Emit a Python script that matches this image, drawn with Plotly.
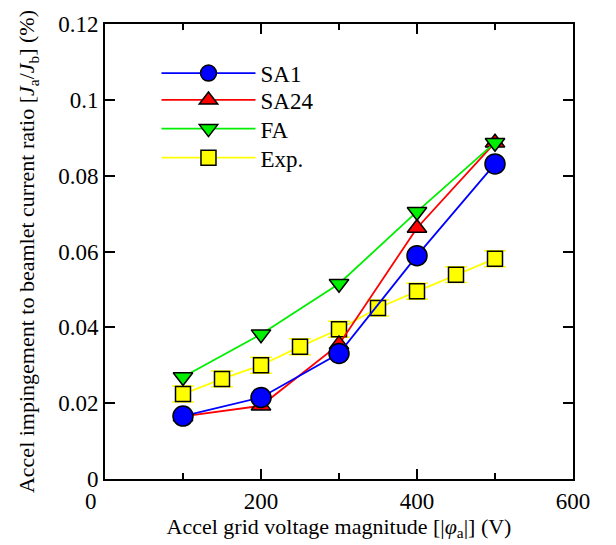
import plotly.graph_objects as go

x_sim = [100, 200, 300, 400, 500]
sa1 = [0.0166, 0.0215, 0.0331, 0.0589, 0.0831]
sa24 = [0.0165, 0.0193, 0.0355, 0.0662, 0.0887]
fa = [0.0269, 0.0382, 0.0515, 0.0705, 0.0887]
x_exp = [100, 150, 200, 250, 300, 350, 400, 450, 500]
exp = [0.0224, 0.0264, 0.0300, 0.0349, 0.0395, 0.0451, 0.0495, 0.0539, 0.0581]
exp_err = [0.0021, 0.0021, 0.0021, 0.0021, 0.0021, 0.0021, 0.0021, 0.0021, 0.0021]

x_ticks = [0, 200, 400, 600]
y_ticks = [0, 0.02, 0.04, 0.06, 0.08, 0.1, 0.12]
y_ticktext = ["0", "0.02", "0.04", "0.06", "0.08", "0.1", "0.12"]

FONT = "Liberation Serif"
mk_line = dict(color="black", width=1.5)

fig = go.Figure()
fig.add_trace(go.Scatter(
    x=x_exp, y=exp, name="Exp.", mode="lines+markers", legend="legend4",
    line=dict(color="#ffff00", width=1.8),
    marker=dict(symbol="square", size=15, color="#ffff00", line=mk_line),
    error_y=dict(type="data", array=exp_err, color="#ffff00", thickness=1.5, width=11),
))
fig.add_trace(go.Scatter(
    x=x_sim, y=sa24, name="SA24", mode="lines+markers", legend="legend2",
    line=dict(color="#ff0000", width=1.8),
    marker=dict(symbol="triangle-up", size=17, color="#ff0000", line=mk_line),
))
fig.add_trace(go.Scatter(
    x=x_sim, y=fa, name="FA", mode="lines+markers", legend="legend3",
    line=dict(color="#00ee00", width=1.8),
    marker=dict(symbol="triangle-down", size=17, color="#00ee00", line=mk_line),
))
fig.add_trace(go.Scatter(
    x=x_sim, y=sa1, name="SA1", mode="lines+markers", legend="legend",
    line=dict(color="#0000ff", width=1.8),
    marker=dict(symbol="circle", size=20, color="#0000ff", line=mk_line),
))

def leg(yc):
    return dict(x=0.11, y=yc, xanchor="left", yanchor="middle",
                bgcolor="rgba(0,0,0,0)", itemwidth=94,
                font=dict(family=FONT, size=23))

fig.update_layout(
    width=616, height=545,
    margin=dict(l=105, r=43, t=16, b=62),
    paper_bgcolor="white", plot_bgcolor="white",
    font=dict(family=FONT, size=22, color="black"),
    showlegend=True,
    legend=leg(0.892), legend2=leg(0.833), legend3=leg(0.770), legend4=leg(0.706),
    annotations=[dict(text="0", x=0, xref="x", y=0, yref="paper",
                      xanchor="center", yanchor="top", xshift=-14, yshift=-8,
                      showarrow=False, font=dict(family=FONT, size=23))],
)
fig.update_xaxes(
    range=[0, 600], tickvals=x_ticks, ticktext=["", "200", "400", "600"],
    ticks="inside", ticklen=10, tickwidth=1.5, tickcolor="black",
    minor=dict(dtick=100, tick0=0, ticks="inside", ticklen=6, tickwidth=1.5, tickcolor="black"),
    showline=True, linecolor="black", linewidth=2, mirror="allticks",
    showgrid=False, zeroline=False,
    tickfont=dict(family=FONT, size=23),
    title=dict(text="Accel grid voltage magnitude [|<i>φ</i><sub>a</sub>|] (V)",
               font=dict(family=FONT, size=22), standoff=4),
)
fig.update_yaxes(
    range=[0, 0.12], tickvals=y_ticks, ticktext=y_ticktext,
    ticks="inside", ticklen=10, tickwidth=1.5, tickcolor="black",
    showline=True, linecolor="black", linewidth=2, mirror="allticks",
    showgrid=False, zeroline=False,
    tickfont=dict(family=FONT, size=23),
    title=dict(text="Accel impingement to beamlet current ratio [<i>J</i><sub>a</sub>/<i>J</i><sub>b</sub>] (%)",
               font=dict(family=FONT, size=22), standoff=17),
)
fig.write_html("out.html")
